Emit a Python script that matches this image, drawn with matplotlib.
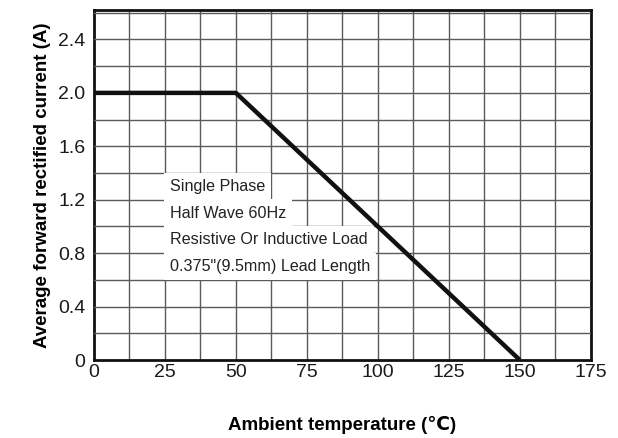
import numpy as np
import matplotlib
matplotlib.use("Agg")
import matplotlib.pyplot as plt

plt.rcParams['font.family'] = ['Liberation Sans', 'DejaVu Sans']

# derating curve
temps = [0, 50, 150]
currents = [2.0, 2.0, 0.0]

x_ticks = [0, 25, 50, 75, 100, 125, 150, 175]
y_ticks = [0, 0.4, 0.8, 1.2, 1.6, 2.0, 2.4]
y_labels = ['0', '0.4', '0.8', '1.2', '1.6', '2.0', '2.4']

notes = ['Single Phase', 'Half Wave 60Hz',
         'Resistive Or Inductive Load', '0.375"(9.5mm) Lead Length']
note_rows = [1.3, 1.1, 0.9, 0.7]

fig = plt.figure(figsize=(6.18, 4.38), dpi=100)
ax = fig.add_axes([0.152, 0.178, 0.804, 0.799])
ax.set_xlim(0, 175)
ax.set_ylim(0, 2.62)

# grid: verticals under the note boxes, horizontals over them
for gx in np.arange(12.5, 175, 12.5):
    ax.axvline(gx, color='#5a5a5a', lw=1.0, zorder=1)
for gy in np.arange(0.2, 2.61, 0.2):
    ax.axhline(gy, color='#5a5a5a', lw=1.0, zorder=3)

for txt, yy in zip(notes, note_rows):
    ax.text(26.8, yy, txt, fontsize=11.6, color='#222222', va='center', ha='left',
            zorder=4,
            bbox=dict(boxstyle='square,pad=0.38', fc='white', ec='none'))

ax.plot(temps, currents, color='#111111', lw=3.2, zorder=5, solid_capstyle='butt')

ax.set_xticks(x_ticks)
ax.set_yticks(y_ticks)
ax.set_yticklabels(y_labels)
ax.tick_params(length=0, labelsize=14, colors='#1a1a1a')
ax.tick_params(axis='x', pad=3)
ax.tick_params(axis='y', pad=6)
for s in ax.spines.values():
    s.set_linewidth(2.0)
    s.set_color('#111111')

ax.set_xlabel('Ambient temperature (℃)', fontsize=13.5, fontweight='bold', labelpad=25)
ax.set_ylabel('Average forward rectified current (A)', fontsize=13.5,
              fontweight='bold', labelpad=5)

fig.savefig('out.png', dpi=100)
